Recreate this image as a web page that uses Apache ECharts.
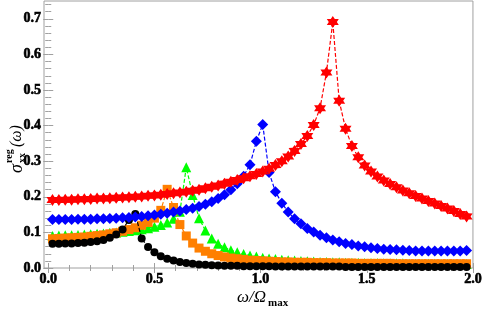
<!DOCTYPE html>
<html><head><meta charset="utf-8">
<script src="https://cdn.jsdelivr.net/npm/echarts@6/dist/echarts.min.js"></script>
<style>html,body{margin:0;padding:0;background:#fff}#c{width:485px;height:311px}</style>
</head><body><div id="c"></div>
<script>
// omega / Omega_max sample points
var xs = [0.02,0.05,0.08,0.11,0.14,0.17,0.20,0.23,0.26,0.29,0.32,0.35,0.38,0.41,0.44,0.47,0.50,0.53,0.56,0.59,
0.62,0.65,0.68,0.71,0.74,0.77,0.80,0.83,0.86,0.89,0.92,0.95,0.98,1.01,1.04,1.07,1.10,1.13,1.16,1.19,
1.22,1.25,1.28,1.31,1.34,1.37,1.40,1.43,1.46,1.49,1.52,1.55,1.58,1.61,1.64,1.67,1.70,1.73,1.76,1.79,
1.82,1.85,1.88,1.91,1.94,1.97];
var red = [0.191,0.191,0.192,0.192,0.193,0.193,0.194,0.195,0.195,0.196,0.197,0.198,0.199,0.200,0.201,0.203,0.204,0.206,0.208,0.210,
0.212,0.214,0.217,0.220,0.224,0.228,0.232,0.237,0.242,0.247,0.252,0.258,0.264,0.271,0.279,0.289,0.300,0.313,0.329,0.348,
0.371,0.402,0.449,0.549,0.691,0.470,0.391,0.343,0.311,0.288,0.271,0.257,0.246,0.236,0.227,0.218,0.210,0.202,0.195,0.188,
0.181,0.174,0.167,0.160,0.152,0.145];
var blue = [0.136,0.136,0.136,0.136,0.137,0.137,0.137,0.138,0.138,0.139,0.140,0.141,0.142,0.143,0.145,0.147,0.149,0.151,0.154,0.157,
0.160,0.164,0.168,0.173,0.179,0.186,0.195,0.206,0.220,0.237,0.258,0.290,0.356,0.403,0.268,0.214,0.182,0.157,0.138,0.124,
0.111,0.101,0.092,0.085,0.079,0.074,0.069,0.066,0.062,0.060,0.057,0.055,0.053,0.052,0.051,0.050,0.049,0.048,0.048,0.048,
0.048,0.048,0.048,0.048,0.048,0.049];
var green = [0.090,0.091,0.092,0.092,0.093,0.094,0.095,0.096,0.097,0.099,0.100,0.102,0.104,0.106,0.109,0.112,0.116,0.121,0.128,0.138,
0.158,0.283,0.205,0.140,0.105,0.083,0.068,0.058,0.050,0.044,0.039,0.035,0.032,0.029,0.027,0.025,0.023,0.022,0.021,0.020,
0.019,0.018,0.017,0.017,0.016,0.016,0.015,0.015,0.015,0.014,0.014,0.014,0.013,0.013,0.013,0.013,0.012,0.012,0.012,0.012,
0.012,0.011,0.011,0.011,0.011,0.011];
var orange = [0.082,0.083,0.084,0.085,0.086,0.087,0.089,0.091,0.093,0.096,0.099,0.103,0.108,0.113,0.120,0.128,0.140,0.162,0.221,0.170,
0.122,0.090,0.070,0.056,0.047,0.040,0.035,0.031,0.028,0.026,0.024,0.022,0.021,0.020,0.019,0.018,0.017,0.017,0.016,0.016,
0.016,0.015,0.015,0.015,0.014,0.014,0.014,0.014,0.013,0.013,0.013,0.013,0.013,0.013,0.012,0.012,0.012,0.012,0.012,0.012,
0.012,0.012,0.012,0.012,0.012,0.012];
var black = [0.068,0.068,0.069,0.069,0.070,0.071,0.073,0.075,0.079,0.085,0.094,0.108,0.135,0.152,0.083,0.059,0.044,0.033,0.026,0.021,
0.017,0.014,0.012,0.010,0.009,0.008,0.007,0.006,0.006,0.006,0.005,0.005,0.005,0.005,0.005,0.004,0.004,0.004,0.004,0.004,
0.004,0.004,0.004,0.004,0.004,0.004,0.003,0.003,0.003,0.003,0.003,0.003,0.003,0.003,0.003,0.003,0.003,0.003,0.003,0.003,
0.003,0.003,0.003,0.003,0.003,0.003];
var xMajor = [0, 0.5, 1.0, 1.5, 2.0];
var xMinor = [0.1,0.2,0.3,0.4,0.6,0.7,0.8,0.9,1.1,1.2,1.3,1.4,1.6,1.7,1.8,1.9];
var yMajor = [0, 0.1, 0.2, 0.3, 0.4, 0.5, 0.6, 0.7];
var yMinor = [0.02,0.04,0.06,0.08,0.12,0.14,0.16,0.18,0.22,0.24,0.26,0.28,0.32,0.34,0.36,0.38,0.42,0.44,0.46,0.48,0.52,0.54,0.56,0.58,0.62,0.64,0.66,0.68,0.72,0.74];

function zip(ys){ return xs.map(function(x,i){ return [x, ys[i]]; }); }
var starPath = 'path://M50 0 L64.5 24.9 L93.3 25 L79 50 L93.3 75 L64.5 75.1 L50 100 L35.5 75.1 L6.7 75 L21 50 L6.7 25 L35.5 24.9 Z';
var frameColor = '#a0a0a0';
var labelFont = {fontFamily:'Liberation Serif', fontWeight:'bold', fontSize:14, color:'#000', textBorderColor:'#000', textBorderWidth:0.6};

function xAx(pos, vals, len, labels){
  return {type:'value', gridIndex:0, position:pos, min:-0.02, max:2.0,
    axisLine:{show:false}, splitLine:{show:false},
    axisTick:{show:true, inside:true, length:len, customValues:vals, lineStyle:{color:frameColor}},
    axisLabel: labels ? Object.assign({show:true, customValues:vals, margin:4, formatter:function(v){return v.toFixed(1);}}, labelFont) : {show:false}};
}
function yAx(pos, vals, len, labels){
  return {type:'value', gridIndex:0, position:pos, min:0, max:0.75,
    axisLine:{show:false}, splitLine:{show:false},
    axisTick:{show:true, inside:true, length:len, customValues:vals, lineStyle:{color:frameColor}},
    axisLabel: labels ? Object.assign({show:true, customValues:vals, margin:3, formatter:function(v){return v.toFixed(1);}}, labelFont) : {show:false}};
}
function ser(name, ys, color, symbol, size, z){
  return {name:name, type:'line', data:zip(ys), xAxisIndex:0, yAxisIndex:0,
    symbol:symbol, symbolSize:size, showSymbol:true, z:z,
    lineStyle:{color:color, width:1.2, type:[4,2]},
    itemStyle:{color:color, borderWidth:0}};
}
var chart = echarts.init(document.getElementById('c'), null, {renderer:'canvas'});
chart.setOption({
  animation:false,
  backgroundColor:'#fff',
  grid:{left:44, top:1, width:433, height:267, show:true, borderColor:frameColor, borderWidth:1, backgroundColor:'transparent'},
  xAxis:[xAx('bottom', xMajor, 5, true), xAx('bottom', xMinor, 3, false), xAx('top', xMajor, 5, false), xAx('top', xMinor, 3, false)],
  yAxis:[yAx('left', yMajor, 5, true), yAx('left', yMinor, 3, false), yAx('right', yMajor, 5, false), yAx('right', yMinor, 3, false)],
  series:[
    ser('green', green, '#00ff00', 'triangle', 10, 2),
    ser('orange', orange, '#ff7f00', 'rect', 9, 3),
    ser('black', black, '#000000', 'circle', 8, 4),
    ser('blue', blue, '#0000ff', 'diamond', 11, 5),
    ser('red', red, '#ff0000', starPath, 12, 6)
  ],
  graphic:[
    {type:'group', x:17, y:173, rotation:Math.PI/2, children:[
      {type:'text', x:0, y:0, style:{text:'σ', font:'italic 18px "Liberation Serif"', fill:'#000', verticalAlign:'middle', align:'left'}},
      {type:'text', x:10, y:-8, style:{text:'reg', font:'bold 10px "Liberation Serif"', fill:'#000', verticalAlign:'middle', align:'left'}},
      {type:'text', x:10, y:5, style:{text:'xx', font:'bold 10px "Liberation Serif"', fill:'#000', verticalAlign:'middle', align:'left'}},
      {type:'text', x:26, y:0, style:{text:'(ω)', font:'italic 16px "Liberation Serif"', fill:'#000', verticalAlign:'middle', align:'left'}}
    ]},
    {type:'text', x:237, y:298, style:{text:'ω/Ω', font:'italic 17px "Liberation Serif"', fill:'#000', verticalAlign:'middle', align:'left'}},
    {type:'text', x:268, y:303, style:{text:'max', font:'bold 11px "Liberation Serif"', fill:'#000', verticalAlign:'middle', align:'left'}}
  ]
});
</script></body></html>
